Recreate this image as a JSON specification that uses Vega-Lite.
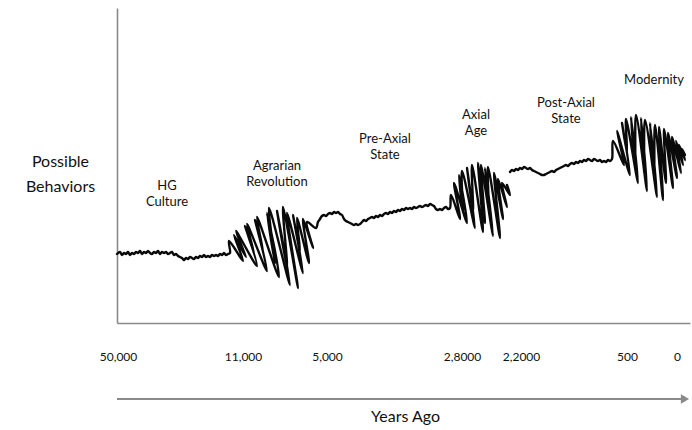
{
  "$schema": "https://vega.github.io/schema/vega-lite/v6.json",
  "width": 573,
  "height": 315,
  "autosize": "none",
  "padding": {"left": 117, "top": 8, "right": 2, "bottom": 107},
  "background": "white",
  "config": {"view": {"stroke": null}, "font": "Lato"},
  "datasets": {
    "curve": [
      {"x":0,"y":69,"seg":1},{"x":3,"y":71,"seg":1},{"x":5,"y":68,"seg":1},{"x":7,"y":70,"seg":1},{"x":9,"y":69,"seg":1},{"x":11,"y":71,"seg":1},{"x":13,"y":68,"seg":1},{"x":15,"y":70,"seg":1},{"x":17,"y":69,"seg":1},{"x":19,"y":71,"seg":1},{"x":21,"y":70,"seg":1},{"x":23,"y":72,"seg":1},{"x":25,"y":69,"seg":1},{"x":27,"y":71,"seg":1},{"x":29,"y":70,"seg":1},{"x":31,"y":72,"seg":1},{"x":33,"y":70,"seg":1},{"x":35,"y":69,"seg":1},{"x":37,"y":71,"seg":1},{"x":39,"y":70,"seg":1},{"x":41,"y":72,"seg":1},{"x":43,"y":69,"seg":1},{"x":45,"y":71,"seg":1},{"x":47,"y":70,"seg":1},{"x":49,"y":71,"seg":1},{"x":51,"y":69,"seg":1},{"x":53,"y":70,"seg":1},{"x":55,"y":71,"seg":1},{"x":57,"y":68,"seg":1},{"x":59,"y":69,"seg":1},{"x":61,"y":67,"seg":1},{"x":63,"y":66,"seg":1},{"x":65,"y":65,"seg":1},{"x":67,"y":63,"seg":1},{"x":69,"y":65,"seg":1},{"x":71,"y":64,"seg":1},{"x":73,"y":66,"seg":1},{"x":75,"y":65,"seg":1},{"x":77,"y":64,"seg":1},{"x":79,"y":66,"seg":1},{"x":81,"y":65,"seg":1},{"x":83,"y":67,"seg":1},{"x":85,"y":66,"seg":1},{"x":87,"y":68,"seg":1},{"x":89,"y":66,"seg":1},{"x":91,"y":67,"seg":1},{"x":93,"y":66,"seg":1},{"x":95,"y":68,"seg":1},{"x":97,"y":67,"seg":1},{"x":99,"y":68,"seg":1},{"x":101,"y":67,"seg":1},{"x":103,"y":69,"seg":1},{"x":105,"y":68,"seg":1},{"x":107,"y":70,"seg":1},{"x":109,"y":68,"seg":1},{"x":111,"y":69,"seg":1},{"x":113,"y":70,"seg":1},
      {"x":112,"y":82,"seg":1},{"x":126,"y":62,"seg":1},{"x":117,"y":88,"seg":1},{"x":129,"y":66,"seg":1},{"x":119,"y":92,"seg":1},{"x":140,"y":57,"seg":1},{"x":128,"y":97,"seg":1},{"x":137,"y":70,"seg":1},{"x":130,"y":99,"seg":1},{"x":150,"y":52,"seg":1},{"x":138,"y":103,"seg":1},{"x":146,"y":72,"seg":1},{"x":140,"y":106,"seg":1},{"x":162,"y":46,"seg":1},{"x":150,"y":110,"seg":1},{"x":158,"y":60,"seg":1},{"x":152,"y":115,"seg":1},{"x":173,"y":38,"seg":1},{"x":160,"y":112,"seg":1},{"x":170,"y":56,"seg":1},{"x":166,"y":116,"seg":1},{"x":181,"y":35,"seg":1},{"x":170,"y":110,"seg":1},{"x":186,"y":50,"seg":1},{"x":176,"y":108,"seg":1},{"x":183,"y":72,"seg":1},{"x":180,"y":105,"seg":1},{"x":192,"y":60,"seg":1},{"x":186,"y":104,"seg":1},{"x":196,"y":75,"seg":1},{"x":190,"y":101,"seg":1},{"x":199,"y":95,"seg":1},
      {"x":201,"y":101,"seg":1},{"x":203,"y":104,"seg":1},{"x":205,"y":107,"seg":1},{"x":207,"y":108,"seg":1},{"x":209,"y":107,"seg":1},{"x":211,"y":109,"seg":1},{"x":213,"y":110,"seg":1},{"x":215,"y":109,"seg":1},{"x":217,"y":111,"seg":1},{"x":219,"y":110,"seg":1},{"x":221,"y":111,"seg":1},{"x":223,"y":109,"seg":1},{"x":225,"y":108,"seg":1},{"x":227,"y":104,"seg":1},{"x":229,"y":102,"seg":1},{"x":231,"y":101,"seg":1},{"x":233,"y":100,"seg":1},{"x":235,"y":99,"seg":1},{"x":237,"y":98,"seg":1},{"x":239,"y":99,"seg":1},{"x":241,"y":98,"seg":1},{"x":243,"y":99,"seg":1},{"x":245,"y":101,"seg":1},{"x":247,"y":103,"seg":1},{"x":249,"y":102,"seg":1},{"x":251,"y":104,"seg":1},{"x":253,"y":105,"seg":1},{"x":255,"y":106,"seg":1},{"x":257,"y":105,"seg":1},{"x":259,"y":107,"seg":1},{"x":261,"y":106,"seg":1},{"x":263,"y":108,"seg":1},{"x":265,"y":107,"seg":1},{"x":267,"y":109,"seg":1},{"x":269,"y":110,"seg":1},{"x":271,"y":109,"seg":1},{"x":273,"y":111,"seg":1},{"x":275,"y":110,"seg":1},{"x":277,"y":112,"seg":1},{"x":279,"y":111,"seg":1},{"x":281,"y":113,"seg":1},{"x":283,"y":112,"seg":1},{"x":285,"y":114,"seg":1},{"x":287,"y":113,"seg":1},{"x":289,"y":115,"seg":1},{"x":291,"y":114,"seg":1},{"x":293,"y":115,"seg":1},{"x":295,"y":114,"seg":1},{"x":297,"y":116,"seg":1},{"x":299,"y":115,"seg":1},{"x":301,"y":116,"seg":1},{"x":303,"y":117,"seg":1},{"x":305,"y":116,"seg":1},{"x":307,"y":117,"seg":1},{"x":309,"y":118,"seg":1},{"x":311,"y":117,"seg":1},{"x":313,"y":119,"seg":1},{"x":315,"y":118,"seg":1},{"x":317,"y":117,"seg":1},{"x":319,"y":114,"seg":1},{"x":321,"y":113,"seg":1},{"x":323,"y":114,"seg":1},{"x":325,"y":113,"seg":1},{"x":327,"y":115,"seg":1},{"x":329,"y":116,"seg":1},{"x":331,"y":114,"seg":1},{"x":333,"y":115,"seg":1},
      {"x":334,"y":128,"seg":1},{"x":343,"y":104,"seg":1},{"x":337,"y":140,"seg":1},{"x":350,"y":100,"seg":1},{"x":342,"y":148,"seg":1},{"x":346,"y":110,"seg":1},{"x":345,"y":152,"seg":1},{"x":358,"y":95,"seg":1},{"x":350,"y":155,"seg":1},{"x":356,"y":112,"seg":1},{"x":355,"y":158,"seg":1},{"x":366,"y":91,"seg":1},{"x":361,"y":160,"seg":1},{"x":368,"y":100,"seg":1},{"x":364,"y":158,"seg":1},{"x":376,"y":87,"seg":1},{"x":368,"y":155,"seg":1},{"x":372,"y":110,"seg":1},{"x":371,"y":156,"seg":1},{"x":383,"y":85,"seg":1},{"x":377,"y":150,"seg":1},{"x":386,"y":104,"seg":1},{"x":381,"y":144,"seg":1},{"x":390,"y":116,"seg":1},{"x":385,"y":140,"seg":1},{"x":393,"y":128,"seg":1},{"x":390,"y":138,"seg":1},
      {"x":393,"y":151,"seg":2},{"x":395,"y":153,"seg":2},{"x":397,"y":152,"seg":2},{"x":399,"y":154,"seg":2},{"x":401,"y":153,"seg":2},{"x":403,"y":155,"seg":2},{"x":405,"y":154,"seg":2},{"x":407,"y":156,"seg":2},{"x":409,"y":155,"seg":2},{"x":411,"y":154,"seg":2},{"x":413,"y":155,"seg":2},{"x":415,"y":153,"seg":2},{"x":417,"y":152,"seg":2},{"x":419,"y":151,"seg":2},{"x":421,"y":150,"seg":2},{"x":423,"y":149,"seg":2},{"x":425,"y":148,"seg":2},{"x":427,"y":148,"seg":2},{"x":429,"y":149,"seg":2},{"x":431,"y":150,"seg":2},{"x":433,"y":151,"seg":2},{"x":435,"y":152,"seg":2},{"x":437,"y":151,"seg":2},{"x":439,"y":153,"seg":2},{"x":441,"y":154,"seg":2},{"x":443,"y":155,"seg":2},{"x":445,"y":156,"seg":2},{"x":447,"y":157,"seg":2},{"x":449,"y":158,"seg":2},{"x":451,"y":157,"seg":2},{"x":453,"y":159,"seg":2},{"x":455,"y":160,"seg":2},{"x":457,"y":159,"seg":2},{"x":459,"y":161,"seg":2},{"x":461,"y":160,"seg":2},{"x":463,"y":162,"seg":2},{"x":465,"y":161,"seg":2},{"x":467,"y":163,"seg":2},{"x":469,"y":162,"seg":2},{"x":471,"y":164,"seg":2},{"x":473,"y":163,"seg":2},{"x":475,"y":162,"seg":2},{"x":477,"y":164,"seg":2},{"x":479,"y":163,"seg":2},{"x":481,"y":162,"seg":2},{"x":483,"y":163,"seg":2},{"x":485,"y":161,"seg":2},{"x":487,"y":162,"seg":2},{"x":489,"y":161,"seg":2},{"x":491,"y":163,"seg":2},{"x":493,"y":162,"seg":2},{"x":495,"y":164,"seg":2},
      {"x":496,"y":182,"seg":2},{"x":507,"y":158,"seg":2},{"x":500,"y":192,"seg":2},{"x":513,"y":148,"seg":2},{"x":505,"y":200,"seg":2},{"x":510,"y":170,"seg":2},{"x":509,"y":204,"seg":2},{"x":521,"y":140,"seg":2},{"x":514,"y":206,"seg":2},{"x":518,"y":160,"seg":2},{"x":519,"y":208,"seg":2},{"x":530,"y":132,"seg":2},{"x":524,"y":205,"seg":2},{"x":527,"y":150,"seg":2},{"x":528,"y":203,"seg":2},{"x":540,"y":126,"seg":2},{"x":533,"y":200,"seg":2},{"x":537,"y":145,"seg":2},{"x":538,"y":198,"seg":2},{"x":546,"y":123,"seg":2},{"x":542,"y":196,"seg":2},{"x":549,"y":140,"seg":2},{"x":547,"y":194,"seg":2},{"x":556,"y":135,"seg":2},{"x":551,"y":190,"seg":2},{"x":560,"y":145,"seg":2},{"x":555,"y":186,"seg":2},{"x":564,"y":150,"seg":2},{"x":559,"y":182,"seg":2},{"x":566,"y":158,"seg":2},{"x":562,"y":178,"seg":2},{"x":568,"y":163,"seg":2},{"x":565,"y":174,"seg":2},{"x":568,"y":168,"seg":2}
    ],
    "labels": [
      {"x":50,"y":137.5,"t":"HG\nCulture"},
      {"x":160,"y":157.5,"t":"Agrarian\nRevolution"},
      {"x":268,"y":184.5,"t":"Pre-Axial\nState"},
      {"x":359,"y":208.5,"t":"Axial\nAge"},
      {"x":449,"y":220.5,"t":"Post-Axial\nState"},
      {"x":537,"y":243,"t":"Modernity"}
    ],
    "arrow": [{"x":0,"x2":566,"y":-76}],
    "head": [{"x":568,"y":-76}]
  },
  "layer": [
    {
      "data": {"name": "curve"},
      "mark": {"type": "line", "color": "#0a0a0a", "strokeWidth": 2.4, "strokeJoin": "round", "strokeCap": "round", "interpolate": "catmull-rom"},
      "encoding": {
        "x": {"field": "x", "type": "quantitative", "scale": {"domain": [0, 573], "nice": false, "zero": false},
          "axis": {"title": "Years Ago", "titleFont": "Lato", "titleFontSize": 16, "titleFontWeight": "normal", "titleColor": "#111",
            "titleX": 288, "titleY": 93, "titleBaseline": "middle", "titleAnchor": null,
            "values": [1, 126, 210, 345, 404, 510, 560],
            "labelExpr": "datum.value == 1 ? '50,000' : datum.value == 126 ? '11,000' : datum.value == 210 ? '5,000' : datum.value == 345 ? '2,8000' : datum.value == 404 ? '2,2000' : datum.value == 510 ? '500' : '0'",
            "labelPadding": 28, "labelFontSize": 12, "labelColor": "#111", "labelFont": "Lato", "labelOverlap": false, "labelFlush": false,
            "ticks": false, "grid": false, "domainColor": "#8a8a8a", "domainWidth": 1.6}},
        "y": {"field": "y", "type": "quantitative", "scale": {"domain": [0, 315], "nice": false, "zero": false},
          "axis": {"title": ["Possible", "Behaviors"], "titleAngle": 0, "titleX": -57, "titleY": 153, "titleAlign": "center", "titleBaseline": "middle",
            "titleFontSize": 16, "titleFontWeight": "normal", "titleFont": "Lato", "titleColor": "#111", "titleLineHeight": 25,
            "labels": false, "ticks": false, "grid": false, "domainColor": "#8a8a8a", "domainWidth": 1.6}},
        "detail": {"field": "seg"},
        "order": {"value": null}
      }
    },
    {
      "data": {"name": "labels"},
      "mark": {"type": "text", "font": "Lato", "fontSize": 13, "color": "#111", "lineBreak": "\n", "lineHeight": 16, "align": "center", "baseline": "middle"},
      "encoding": {
        "x": {"field": "x", "type": "quantitative"},
        "y": {"field": "y", "type": "quantitative"},
        "text": {"field": "t"}
      }
    },
    {
      "data": {"name": "arrow"},
      "mark": {"type": "rule", "color": "#8a8a8a", "strokeWidth": 2},
      "encoding": {
        "x": {"field": "x", "type": "quantitative"},
        "x2": {"field": "x2"},
        "y": {"field": "y", "type": "quantitative"}
      }
    },
    {
      "data": {"name": "head"},
      "mark": {"type": "point", "shape": "triangle-right", "filled": true, "color": "#8a8a8a", "size": 90, "opacity": 1},
      "encoding": {
        "x": {"field": "x", "type": "quantitative"},
        "y": {"field": "y", "type": "quantitative"}
      }
    }
  ]
}
